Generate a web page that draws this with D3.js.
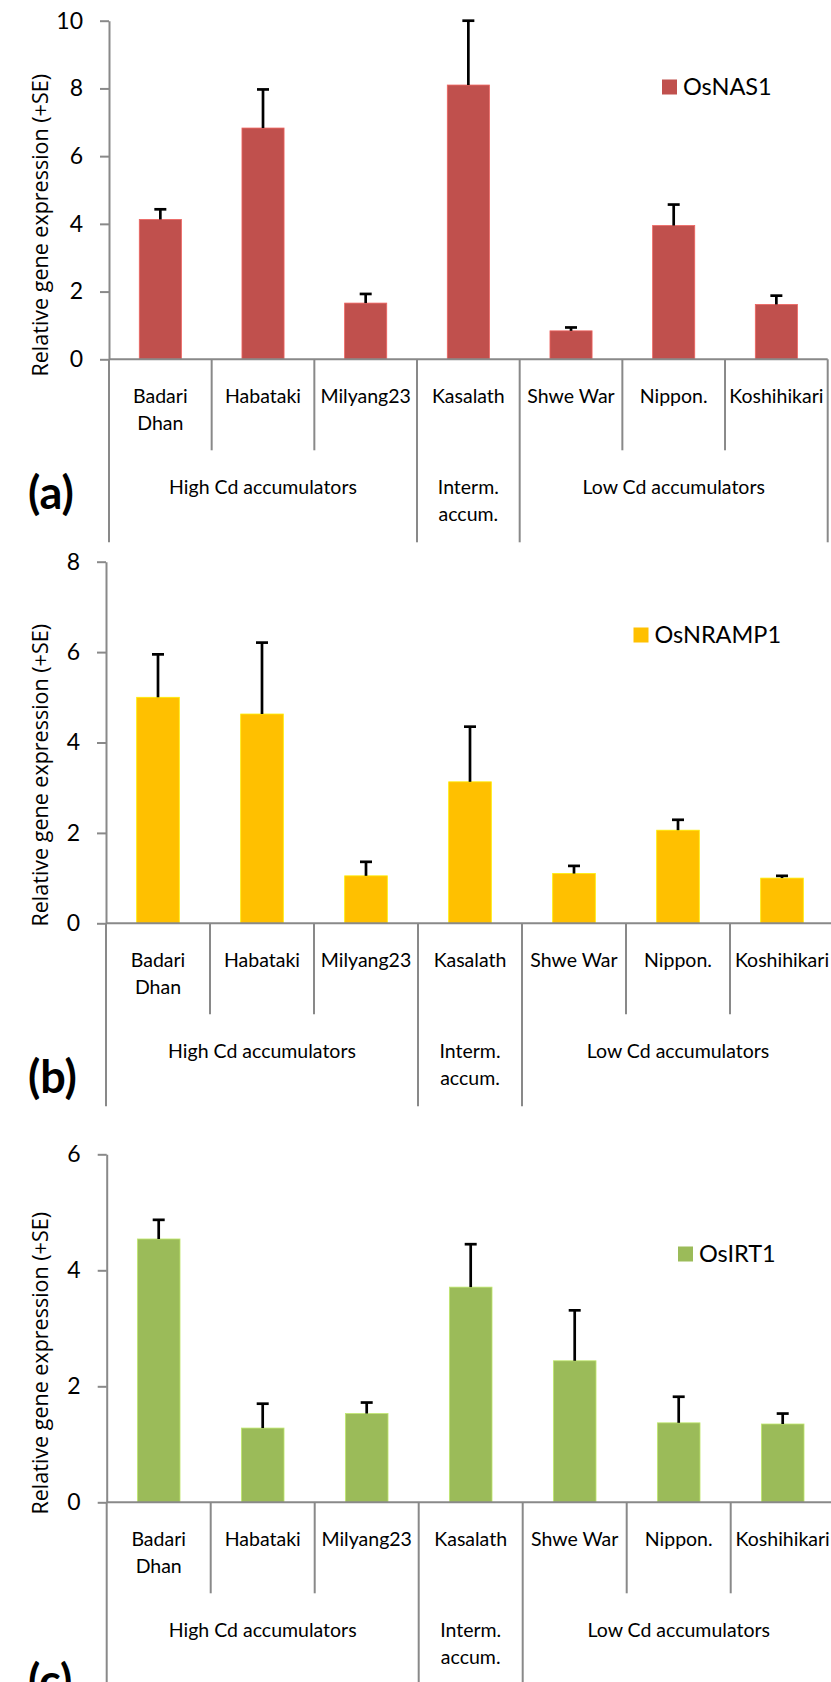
<!DOCTYPE html>
<html><head><meta charset="utf-8">
<script src="https://cdn.jsdelivr.net/npm/d3@7"></script>
<style>body{margin:0;background:#fff}svg{display:block}</style>
</head><body>
<svg id="chart" width="831" height="1682"></svg>
<script>
// ---- data ----
const categories = ["Badari\nDhan", "Habataki", "Milyang23", "Kasalath", "Shwe War", "Nippon.", "Koshihikari"];
const groupNames = ["High Cd accumulators", "Interm.\naccum.", "Low Cd accumulators"];
const groupStart = [0, 3, 4];
const groupEnd = [3, 4, 7];

const nas1Values = [4.13, 6.83, 1.66, 8.10, 0.84, 3.95, 1.62];
const nas1SE     = [0.30, 1.14, 0.27, 1.90, 0.10, 0.62, 0.26];
const nramp1Values = [5.00, 4.63, 1.05, 3.13, 1.10, 2.06, 1.00];
const nramp1SE     = [0.95, 1.58, 0.31, 1.22, 0.17, 0.23, 0.05];
const irt1Values = [4.54, 1.28, 1.53, 3.71, 2.44, 1.37, 1.35];
const irt1SE     = [0.33, 0.42, 0.19, 0.74, 0.87, 0.45, 0.18];

const ticksA = [0, 2, 4, 6, 8, 10];
const ticksB = [0, 2, 4, 6, 8];
const ticksC = [0, 2, 4, 6];

const seriesNames = ["OsNAS1", "OsNRAMP1", "OsIRT1"];
const panelLabels = ["(a)", "(b)", "(c)"];
const yTitle = "Relative gene expression (+SE)";

// ---- layout / style ----
const layouts = [
  {x0: 109, x1: 827.7, yTop: 20.7, yZero: 359.3, titleTop: 74, labelBase: 509, legX: 662, legY: 79.5},
  {x0: 106, x1: 834, yTop: 561.7, yZero: 923.3, titleTop: 624, labelBase: 1093, legX: 633.5, legY: 627.5},
  {x0: 106.7, x1: 834.7, yTop: 1154.3, yZero: 1502.3, titleTop: 1212, labelBase: 1697, legX: 678, legY: 1246.5}
];
const colors = ["#C0504D", "#FFC000", "#9BBB59"];
const axisColor = "#898989";

const panels = [
  {values: nas1Values, se: nas1SE, ticks: ticksA},
  {values: nramp1Values, se: nramp1SE, ticks: ticksB},
  {values: irt1Values, se: irt1SE, ticks: ticksC}
];

const svg = d3.select("#chart");
svg.append("rect").attr("width", 831).attr("height", 1682).attr("fill", "#fff");

panels.forEach((p, pi) => {
  const L = layouts[pi];
  const g = svg.append("g");
  const x = d3.scaleBand().domain(d3.range(categories.length)).range([L.x0, L.x1])
    .paddingInner(0.59).paddingOuter(0.295);
  const step = x.step();
  const y = d3.scaleLinear().domain([0, d3.max(p.ticks)]).range([L.yZero, L.yTop]);

  // bars
  g.selectAll("rect.bar").data(p.values).join("rect").attr("class", "bar")
    .attr("x", (d, i) => x(i)).attr("width", x.bandwidth())
    .attr("y", d => y(d)).attr("height", d => y(0) - y(d))
    .attr("fill", colors[pi])
    .attr("stroke", d3.color(colors[pi]).brighter(0.6)).attr("stroke-width", 0.8);

  // error bars
  const eb = g.selectAll("g.eb").data(p.values.map((v, i) => ({v, s: p.se[i], i}))).join("g");
  eb.append("line")
    .attr("x1", d => x(d.i) + x.bandwidth() / 2).attr("x2", d => x(d.i) + x.bandwidth() / 2)
    .attr("y1", d => y(d.v)).attr("y2", d => y(d.v + d.s))
    .attr("stroke", "#000").attr("stroke-width", 2.7);
  eb.append("line")
    .attr("x1", d => x(d.i) + x.bandwidth() / 2 - 6).attr("x2", d => x(d.i) + x.bandwidth() / 2 + 6)
    .attr("y1", d => y(d.v + d.s)).attr("y2", d => y(d.v + d.s))
    .attr("stroke", "#000").attr("stroke-width", 2.7);

  // y axis
  const ya = g.append("g").attr("transform", `translate(${L.x0},0)`)
    .call(d3.axisLeft(y).tickValues(p.ticks).tickFormat(d3.format("d")).tickSize(9).tickSizeOuter(0).tickPadding(17));
  ya.select(".domain").attr("stroke", axisColor).attr("stroke-width", 2);
  ya.selectAll(".tick line").attr("stroke", axisColor).attr("stroke-width", 2);
  ya.selectAll(".tick text").attr("fill", "#000").attr("font-family", "Lato, 'Open Sans', sans-serif")
    .attr("font-size", 23);

  // x axis baseline
  g.append("line").attr("x1", L.x0).attr("x2", L.x1).attr("y1", y(0)).attr("y2", y(0))
    .attr("stroke", axisColor).attr("stroke-width", 2);

  // category separators
  const bounds = d3.range(categories.length + 1);
  g.selectAll("line.sep").data(bounds).join("line").attr("class", "sep")
    .attr("x1", b => L.x0 + b * step).attr("x2", b => L.x0 + b * step)
    .attr("y1", y(0)).attr("y2", b => (groupStart.includes(b) || b === categories.length) ? y(0) + 183 : y(0) + 91)
    .attr("stroke", axisColor).attr("stroke-width", 2);

  // category labels
  const font = "Lato, 'Open Sans', sans-serif";
  categories.forEach((c, i) => {
    const cx = x(i) + x.bandwidth() / 2;
    c.split("\n").forEach((line, li) => {
      g.append("text").attr("x", cx).attr("y", y(0) + 44 + li * 27)
        .attr("text-anchor", "middle").attr("font-family", font).attr("font-size", 19.5)
        .attr("fill", "#000").text(line);
    });
  });

  // group labels
  groupNames.forEach((gn, gi) => {
    const cx = L.x0 + (groupStart[gi] + groupEnd[gi]) / 2 * step;
    gn.split("\n").forEach((line, li) => {
      g.append("text").attr("x", cx).attr("y", y(0) + 135 + li * 27)
        .attr("text-anchor", "middle").attr("font-family", font).attr("font-size", 19.5)
        .attr("fill", "#000").text(line);
    });
  });

  // y title
  g.append("text").attr("transform", `translate(48,${L.titleTop}) rotate(-90)`)
    .attr("text-anchor", "end").attr("font-family", "'Open Sans', sans-serif").attr("font-size", 21.5)
    .attr("fill", "#000").text(yTitle);

  // panel label
  g.append("text").attr("x", 28).attr("y", L.labelBase)
    .attr("font-family", font).attr("font-weight", "bold").attr("font-size", 45)
    .attr("fill", "#000").text(panelLabels[pi]);

  // legend
  g.append("rect").attr("x", L.legX).attr("y", L.legY).attr("width", 15).attr("height", 15)
    .attr("fill", colors[pi]);
  g.append("text").attr("x", L.legX + 21).attr("y", L.legY + 15)
    .attr("font-family", font).attr("font-size", 23.5).attr("fill", "#000").text(seriesNames[pi]);
});
</script>
</body></html>
